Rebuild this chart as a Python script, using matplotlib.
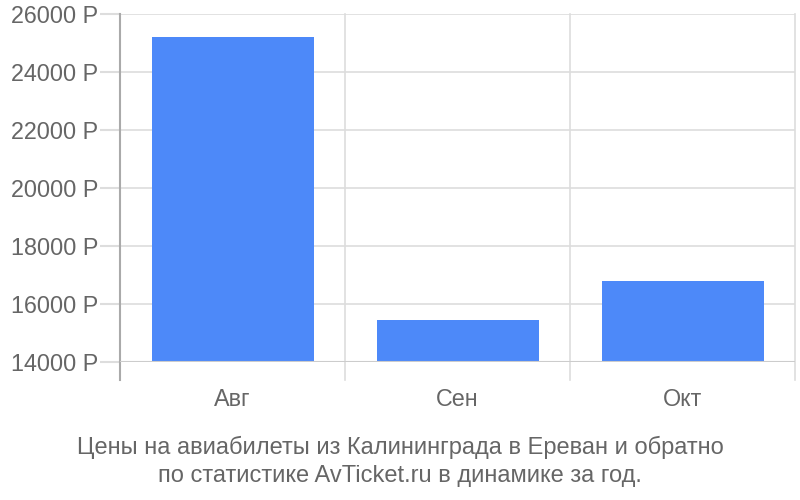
import matplotlib
matplotlib.use('Agg')
import matplotlib.pyplot as plt

plt.rcParams['font.family'] = ['Liberation Sans', 'DejaVu Sans']

# data
months = ['Авг', 'Сен', 'Окт']
prices = [25200, 15450, 16800]
yticks = [14000, 16000, 18000, 20000, 22000, 24000, 26000]
title = 'Цены на авиабилеты из Калининграда в Ереван и обратно\nпо статистике AvTicket.ru в динамике за год.'

text_col = '#666666'
grid_col = '#dddddd'

fig = plt.figure(figsize=(8, 5), dpi=100)
ax = fig.add_axes([120/800, 1 - 362/500, 675/800, 348/500])

xs = [i + 0.5 for i in range(len(months))]
ax.bar(xs, [p - yticks[0] for p in prices], bottom=yticks[0], width=0.72,
       color='#4d89f9', zorder=3)

ax.set_xlim(0, len(months))
ax.set_ylim(yticks[0], yticks[-1])
ax.set_yticks(yticks)
ax.set_yticklabels([f'{t} Р' for t in yticks])
ax.tick_params(axis='y', length=14.4, color=grid_col, width=1.5, pad=1.5,
               labelsize=16.8, labelcolor=text_col)
ax.set_xticks(xs)
ax.set_xticklabels(months)
ax.tick_params(axis='x', length=0, pad=19, labelsize=16.8, labelcolor=text_col)

for t in yticks[1:]:
    ax.axhline(t, color=grid_col, lw=1.2, zorder=1)
ext = -18 / 348
for i in range(1, len(months) + 1):
    ax.plot([i, i], [ext, 1], transform=ax.get_xaxis_transform(),
            color=grid_col, lw=1.2, clip_on=False, zorder=1)
ax.plot([0, 0], [ext, 1], transform=ax.get_xaxis_transform(),
        color='#aaaaaa', lw=1.5, clip_on=False, zorder=4)
ax.axhline(yticks[0], color='#cccccc', lw=1.5, zorder=4)

for s in ax.spines.values():
    s.set_visible(False)

fig.text(400/800, 1 - 461.5/500, title, ha='center', va='center',
         fontsize=17, color=text_col, linespacing=1.36)

fig.savefig('out.png', dpi=100)
